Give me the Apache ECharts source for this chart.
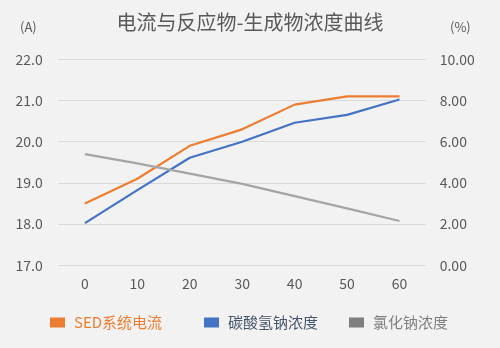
<!DOCTYPE html>
<html><head><meta charset="utf-8">
<script src="https://cdn.jsdelivr.net/npm/echarts@6/dist/echarts.min.js"></script>
<style>html,body{margin:0;padding:0;background:#f2f2f2}#c{width:500px;height:348px}</style>
</head><body><div id="c"></div>
<script>
const categories = ['0','10','20','30','40','50','60'];
const currentA = [18.5, 19.1, 19.9, 20.3, 20.9, 21.1, 21.1];
const bicarbonate = [2.05, 3.65, 5.22, 6.0, 6.92, 7.3, 8.05];
const chloride = [5.4, 4.95, 4.45, 3.95, 3.36, 2.76, 2.15];
const seriesNames = ['SED系统电流', '碳酸氢钠浓度', '氯化钠浓度'];
const colors = ['#ed7d31', '#4472c4', '#a5a5a5'];
const legendColors = ['#ed7d31', '#4472c4', '#7f7f7f'];
const legendTextColors = ['#ed7d31', '#44546a', '#7f7f7f'];

const font = '"Noto Sans CJK SC", "Noto Sans", sans-serif';
const chart = echarts.init(document.getElementById('c'), null, {renderer: 'canvas'});
const legendLefts = [45, 199, 344];
chart.setOption({
  backgroundColor: '#f2f2f2',
  animation: false,
  title: {
    text: '电流与反应物-生成物浓度曲线', left: 'center', top: 7,
    textStyle: {fontFamily: font, fontSize: 20, fontWeight: 'normal', color: '#595959'}
  },
  graphic: [
    {type: 'text', left: 20, top: 21, style: {text: '(A)', font: '13px ' + font, fill: '#595959'}},
    {type: 'text', left: 450, top: 21, style: {text: '(%)', font: '13px ' + font, fill: '#595959'}}
  ],
  legend: seriesNames.map((n, i) => ({
    data: [{name: n, itemStyle: {color: legendColors[i]}, textStyle: {color: legendTextColors[i]}}],
    left: legendLefts[i], top: 310, itemWidth: 15, itemHeight: 10, itemGap: 0,
    icon: 'rect',
    textStyle: {fontFamily: font, fontSize: 15, padding: [0, 0, 0, 4]}
  })),
  grid: {left: 58.7, right: 74.3, top: 59.3, bottom: 82.7},
  xAxis: {
    type: 'category', data: categories, boundaryGap: true,
    axisLine: {show: false}, axisTick: {show: false},
    axisLabel: {fontFamily: font, fontSize: 14, color: '#595959', margin: 11}
  },
  yAxis: [
    {type: 'value', min: 17, max: 22, interval: 1,
     axisLabel: {fontFamily: font, fontSize: 14, color: '#595959', margin: 16, formatter: v => v.toFixed(1)},
     splitLine: {lineStyle: {color: '#d9d9d9', width: 1}},
     axisLine: {show: false}, axisTick: {show: false}},
    {type: 'value', min: 0, max: 10, interval: 2,
     axisLabel: {fontFamily: font, fontSize: 14, color: '#595959', margin: 14, formatter: v => v.toFixed(2)},
     splitLine: {show: false},
     axisLine: {show: false}, axisTick: {show: false}}
  ],
  series: [
    {name: seriesNames[0], type: 'line', yAxisIndex: 0, data: currentA, showSymbol: false, symbol: 'none',
     lineStyle: {color: colors[0], width: 2.2}, itemStyle: {color: colors[0]}},
    {name: seriesNames[1], type: 'line', yAxisIndex: 1, data: bicarbonate, showSymbol: false, symbol: 'none',
     lineStyle: {color: colors[1], width: 2.2}, itemStyle: {color: colors[1]}},
    {name: seriesNames[2], type: 'line', yAxisIndex: 1, data: chloride, showSymbol: false, symbol: 'none',
     lineStyle: {color: colors[2], width: 2.2}, itemStyle: {color: colors[2]}}
  ]
});
</script></body></html>
